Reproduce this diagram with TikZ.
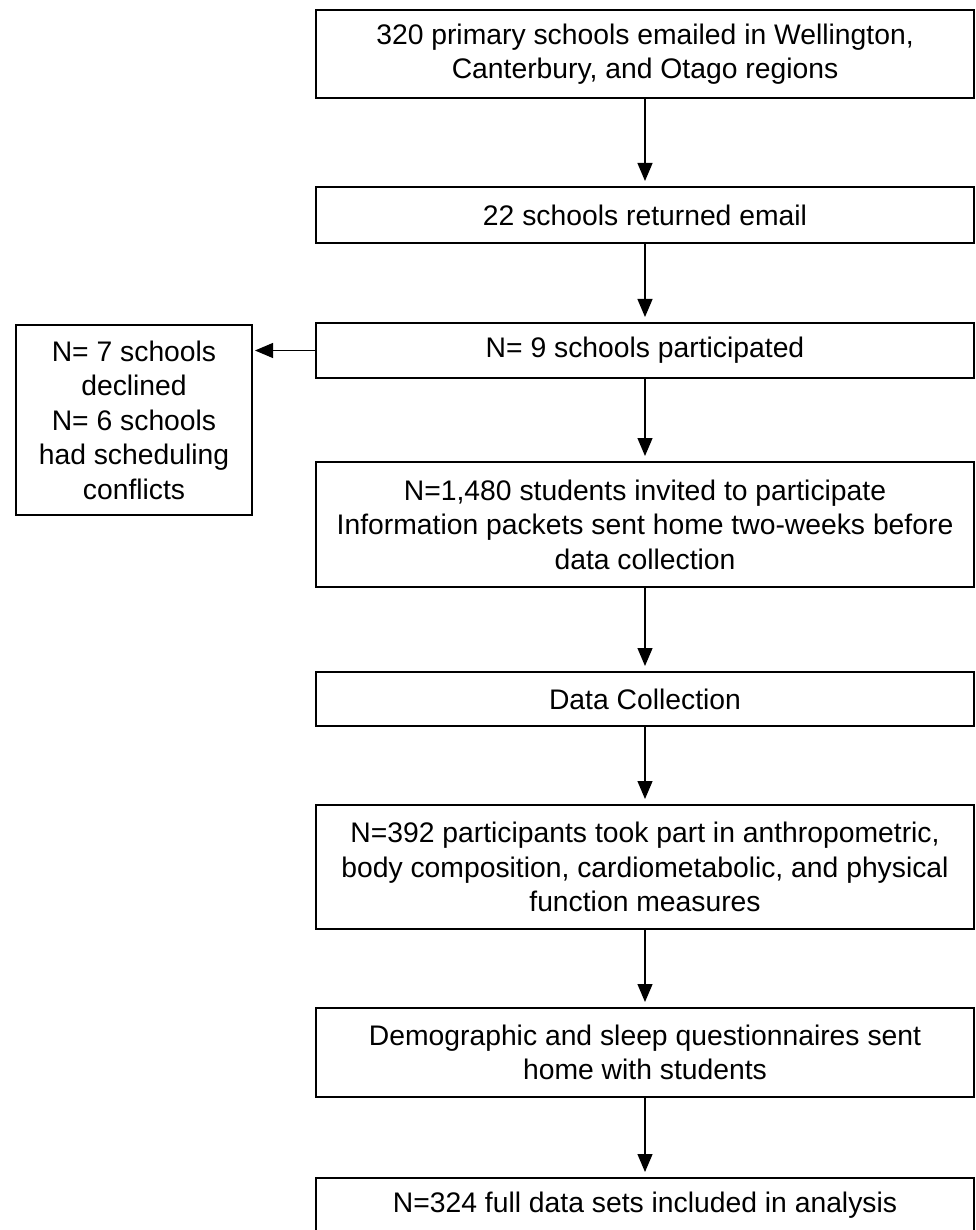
\documentclass[tikz,border=0pt]{standalone}
\usepackage{fontspec}
\setmainfont{Liberation Sans}
\usetikzlibrary{arrows.meta}
\begin{document}
\begin{tikzpicture}[x=1pt,y=-1pt,
  box/.style={draw=black, line width=2pt, fill=white, inner sep=0pt, outer sep=0pt,
    align=center, font=\fontsize{28.3}{34.5}\selectfont},
  mainbox/.style={box, minimum width=658pt},
  arr/.style={draw=black, line width=1.2pt, -{Triangle[width=15pt,length=18pt]}, shorten >=6pt}]
\useasboundingbox (0,0) rectangle (975,1230);
\clip (0,0) rectangle (975,1230);
\node[mainbox, minimum height=88pt] (b1) at (645,54) {320 primary schools emailed in Wellington,\\Canterbury, and Otago regions};
\node[mainbox, minimum height=56pt] (b2) at (645,215) {22 schools returned email};
\node[mainbox, minimum height=55pt] (b3) at (645,350.5) {N= 9 schools participated};
\node[box, minimum width=236pt, minimum height=190pt] (side) at (134,420) {N= 7 schools\\declined\\N= 6 schools\\had scheduling\\conflicts};
\node[mainbox, minimum height=125pt] (b4) at (645,524.5) {N=1,480 students invited to participate\\Information packets sent home two-weeks before\\data collection};
\node[mainbox, minimum height=54pt] (b5) at (645,699) {Data Collection};
\node[mainbox, minimum height=124pt] (b6) at (645,867) {N=392 participants took part in anthropometric,\\body composition, cardiometabolic, and physical\\function measures};
\node[mainbox, minimum height=89pt] (b7) at (645,1052.5) {Demographic and sleep questionnaires sent\\home with students};
\node[mainbox, minimum height=55pt] (b8) at (645,1205.5) {N=324 full data sets included in analysis};
\draw[arr] (b1.south) -- (b2.north);
\draw[arr] (b2.south) -- (b3.north);
\draw[arr, shorten >=3pt] (b3.west) -- (b3.west -| side.east);
\draw[arr] (b3.south) -- (b4.north);
\draw[arr] (b4.south) -- (b5.north);
\draw[arr] (b5.south) -- (b6.north);
\draw[arr] (b6.south) -- (b7.north);
\draw[arr] (b7.south) -- (b8.north);
\end{tikzpicture}
\end{document}
